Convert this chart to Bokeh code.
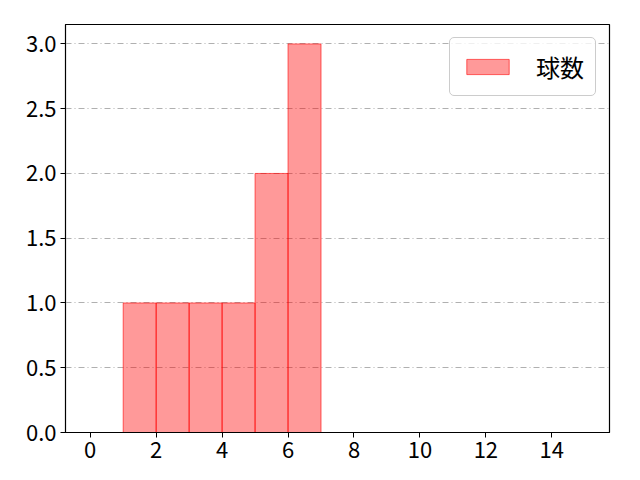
from bokeh.plotting import figure
from bokeh.models import Range1d, FixedTicker, CustomJSTickFormatter, Legend, LegendItem
from bokeh.embed import file_html
from bokeh.resources import INLINE

# 球数のヒストグラム
bin_left = [1, 2, 3, 4, 5, 6]
bin_right = [2, 3, 4, 5, 6, 7]
counts = [1, 1, 1, 1, 2, 3]

x_ticks = [0, 2, 4, 6, 8, 10, 12, 14]
y_ticks = [0, 0.5, 1.0, 1.5, 2.0, 2.5, 3.0]

FONT = "Noto Sans CJK JP"

p = figure(width=640, height=480, output_backend="svg", toolbar_location=None,
           x_range=Range1d(-0.75, 15.75), y_range=Range1d(0, 3.15),
           min_border_left=65, min_border_right=31, min_border_top=24, min_border_bottom=48)

bars = p.quad(left=bin_left, right=bin_right, bottom=0, top=counts,
              fill_color="red", fill_alpha=0.4, line_color="red", line_alpha=0.6, line_width=1)

p.outline_line_color = "black"
p.outline_line_width = 1.2
p.outline_line_alpha = 1

p.xgrid.visible = False
p.ygrid.grid_line_color = "#b0b0b0"
p.ygrid.grid_line_dash = "6 3 1 3"
p.ygrid.grid_line_width = 1

p.xaxis.ticker = FixedTicker(ticks=x_ticks)
p.yaxis.ticker = FixedTicker(ticks=y_ticks)
p.yaxis.formatter = CustomJSTickFormatter(code="return tick.toFixed(1);")

for ax in (p.xaxis, p.yaxis):
    ax.major_label_text_font = FONT
    ax.major_label_text_font_size = "22px"
    ax.major_label_text_color = "black"
    ax.axis_line_color = "black"
    ax.major_tick_line_color = "black"
    ax.major_tick_out = 5
    ax.major_tick_in = 0
    ax.minor_tick_line_color = None
    ax.major_label_standoff = 4

legend = Legend(items=[LegendItem(label="球数", renderers=[bars])], location="top_right")
legend.label_text_font = FONT
legend.label_text_font_size = "24px"
legend.label_text_color = "black"
legend.glyph_width = 53
legend.glyph_height = 19
legend.label_standoff = 22
legend.padding = 11
legend.margin = 13
legend.border_line_color = "#cccccc"
legend.border_line_alpha = 1
legend.border_radius = 5
legend.background_fill_alpha = 0.8
p.add_layout(legend)

open("out.html", "w").write(file_html(p, INLINE))
